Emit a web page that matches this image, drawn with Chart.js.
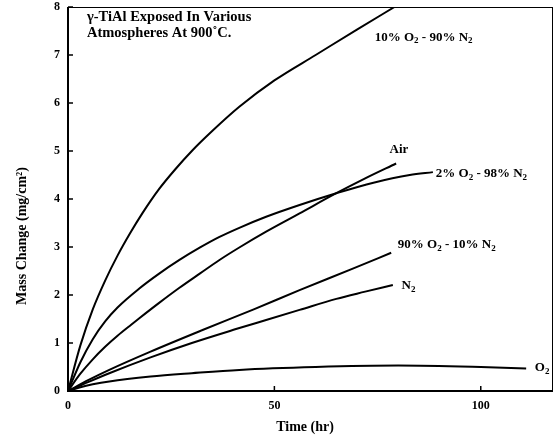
<!DOCTYPE html>
<html>
<head>
<meta charset="utf-8">
<script src="https://cdn.jsdelivr.net/npm/chart.js@4"></script>
<style>
  html, body { margin: 0; padding: 0; background: #fff; }
  #wrap { width: 555px; height: 436px; }
</style>
</head>
<body>
<div id="wrap"><canvas id="myChart" width="555" height="436"></canvas></div>
<script>
// values (time in hr, mass change in mg/cm2)
const t10O2 = [0, 3, 6, 9, 12, 15, 18, 22, 26, 30, 35, 41.5, 50, 60, 70, 79.1];
const v10O2 = [0, 0.95, 1.7, 2.3, 2.82, 3.28, 3.7, 4.2, 4.62, 5.0, 5.42, 5.92, 6.47, 7.0, 7.53, 8.0];

const t2O2 = [0, 3, 6, 9, 12, 17.2, 22, 27, 32, 36.7, 41.5, 48, 56.1, 65, 74, 82.8, 88.4];
const v2O2 = [0, 0.6, 1.08, 1.45, 1.74, 2.13, 2.44, 2.73, 2.99, 3.21, 3.4, 3.63, 3.875, 4.12, 4.34, 4.5, 4.56];

const tAir = [0, 3, 6, 9, 12, 15.3, 17.2, 22, 27, 32, 36.7, 41.5, 48, 56.1, 65, 72, 79.5];
const vAir = [0, 0.36, 0.66, 0.92, 1.15, 1.38, 1.51, 1.83, 2.15, 2.45, 2.73, 2.99, 3.32, 3.7, 4.12, 4.43, 4.74];

const t90O2 = [0, 5, 10, 20, 32.6, 45, 56.1, 69, 78.3];
const v90O2 = [0, 0.23, 0.44, 0.82, 1.27, 1.7, 2.1, 2.55, 2.88];

const tN2 = [0, 5, 10, 20, 30, 40.7, 48, 56.1, 65, 72, 78.7];
const vN2 = [0, 0.19, 0.37, 0.7, 1.0, 1.29, 1.48, 1.69, 1.92, 2.07, 2.21];

const tO2 = [0, 3, 6, 10, 20, 30, 41.5, 60, 80, 100, 111];
const vO2 = [0, 0.08, 0.14, 0.2, 0.3, 0.37, 0.44, 0.5, 0.53, 0.5, 0.47];

const xTicks = [0, 50, 100];
const yTicks = [0, 1, 2, 3, 4, 5, 6, 7, 8];

// curve labels: [text, time, value]  ("_2" = subscript 2)
const curveLabels = [
  ['10% O_2 - 90% N_2', 74.3, 7.37],
  ['Air', 77.9, 5.02],
  ['2% O_2 - 98% N_2', 89.1, 4.52],
  ['90% O_2 - 10% N_2', 79.9, 3.04],
  ['N_2', 80.8, 2.19],
  ['O_2', 113.1, 0.48]
];
const titleLines = ['\u03b3-TiAl Exposed In Various', 'Atmospheres At 900\u02daC.'];
const xTitle = 'Time (hr)';
const yTitle = 'Mass Change (mg/cm\u00b2)';

const serif = '"Liberation Serif", "DejaVu Serif", serif';

function pts(ts, vs) {
  return ts.map((t, i) => ({ x: t, y: vs[i] }));
}

function line(label, ts, vs) {
  return {
    label: label,
    data: pts(ts, vs),
    borderColor: '#000',
    borderWidth: 2,
    pointRadius: 0,
    fill: false,
    cubicInterpolationMode: 'monotone'
  };
}

// draws text where "_2" becomes a small lowered 2
function drawSub(ctx, text, x, y, size) {
  const parts = text.split('_');
  let cx = x;
  parts.forEach((p, i) => {
    if (i > 0) {
      ctx.font = 'bold ' + Math.round(size * 0.7) + 'px ' + serif;
      ctx.fillText(p[0], cx, y + size * 0.3);
      cx += ctx.measureText(p[0]).width;
      p = p.slice(1);
    }
    ctx.font = 'bold ' + size + 'px ' + serif;
    ctx.fillText(p, cx, y);
    cx += ctx.measureText(p).width;
  });
}

const decor = {
  id: 'decor',
  afterDraw(chart) {
    const { ctx, chartArea: a, scales } = chart;
    const xs = scales.x, ys = scales.y;
    ctx.save();
    // frame
    ctx.strokeStyle = '#000';
    ctx.lineWidth = 1;
    ctx.strokeRect(a.left + 0.5, a.top + 0.5, a.right - a.left - 1, a.bottom - a.top - 1);
    ctx.lineWidth = 2;
    ctx.beginPath();
    ctx.moveTo(a.left, a.top);
    ctx.lineTo(a.left, a.bottom);
    ctx.lineTo(a.right, a.bottom);
    ctx.stroke();
    // inward ticks
    ctx.lineWidth = 1.5;
    ctx.beginPath();
    yTicks.forEach(v => {
      const y = ys.getPixelForValue(v);
      ctx.moveTo(a.left, y);
      ctx.lineTo(a.left + 5, y);
    });
    xTicks.forEach(v => {
      const x = xs.getPixelForValue(v);
      ctx.moveTo(x, a.bottom);
      ctx.lineTo(x, a.bottom - 5);
    });
    ctx.stroke();
    // text
    ctx.fillStyle = '#000';
    ctx.textBaseline = 'middle';
    ctx.textAlign = 'left';
    ctx.font = 'bold 14.5px ' + serif;
    ctx.fillText(titleLines[0], xs.getPixelForValue(4.6), ys.getPixelForValue(7.79));
    ctx.fillText(titleLines[1], xs.getPixelForValue(4.6), ys.getPixelForValue(7.46));
    curveLabels.forEach(([txt, t, v]) => {
      drawSub(ctx, txt, xs.getPixelForValue(t), ys.getPixelForValue(v), 13);
    });
    // axis titles
    ctx.textAlign = 'center';
    ctx.font = 'bold 14px ' + serif;
    ctx.fillText(xTitle, 305, 427);
    ctx.translate(22, 236);
    ctx.rotate(-Math.PI / 2);
    ctx.fillText(yTitle, 0, 0);
    ctx.restore();
  }
};

const ctx = document.getElementById('myChart');

new Chart(ctx, {
  type: 'line',
  data: {
    datasets: [
      line('10% O2 - 90% N2', t10O2, v10O2),
      line('2% O2 - 98% N2', t2O2, v2O2),
      line('Air', tAir, vAir),
      line('90% O2 - 10% N2', t90O2, v90O2),
      line('N2', tN2, vN2),
      line('O2', tO2, vO2)
    ]
  },
  options: {
    responsive: false,
    animation: false,
    layout: { padding: { top: 7, right: 2, left: 0, bottom: 0 } },
    plugins: {
      legend: { display: false },
      tooltip: { enabled: false }
    },
    scales: {
      x: {
        type: 'linear',
        min: 0,
        max: 117.5,
        afterBuildTicks: s => { s.ticks = xTicks.map(v => ({ value: v })); },
        afterFit: s => { s.height = 45; s.paddingRight = 0; },
        grid: { display: false, drawTicks: false },
        border: { display: false },
        ticks: {
          color: '#000',
          padding: 8,
          font: { family: serif, size: 12, weight: 'bold' }
        }
      },
      y: {
        min: 0,
        max: 8,
        afterBuildTicks: s => { s.ticks = yTicks.map(v => ({ value: v })); },
        afterFit: s => { s.width = 68; s.paddingTop = 0; s.paddingBottom = 0; },
        grid: { display: false, drawTicks: false },
        border: { display: false },
        ticks: {
          color: '#000',
          padding: 8,
          font: { family: serif, size: 12, weight: 'bold' }
        }
      }
    }
  },
  plugins: [decor]
});
</script>
</body>
</html>
